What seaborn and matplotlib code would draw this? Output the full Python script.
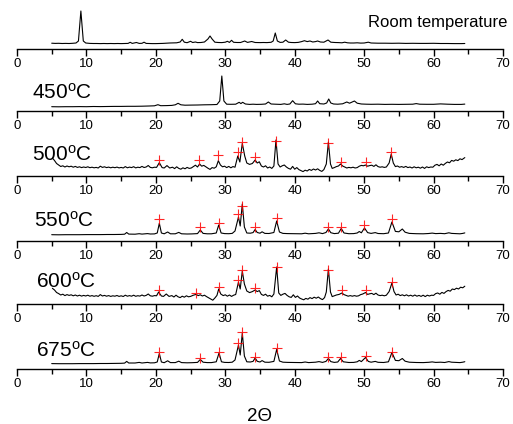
import matplotlib
matplotlib.use("Agg")
import matplotlib.pyplot as plt
import seaborn as sns
import pandas as pd

# ---------------- data (2Theta, intensity in arbitrary units) ----------------
labels = ["Room temperature", "450", "500", "550", "600", "675"]

rt_pts = [(5.0,5.8),(5.5,5.6),(6.0,5.7),(6.5,5.5),(7.0,5.6),(7.5,5.5),(8.0,5.7),(8.5,6.0),(8.85,8),(9.2,38),(9.55,8),(9.9,6.0),
          (10.5,5.6),(11,5.5),(11.5,5.5),(12,5.4),(12.5,5.5),(13,5.4),(13.5,5.5),(14,5.4),(14.5,5.5),(15,5.4),(15.5,5.5),(16,5.6),
          (16.3,6.7),(16.6,5.6),(17.2,6.5),(17.6,5.6),(18.0,5.7),(18.3,6.8),(18.6,5.6),(19,5.5),(19.5,5.4),(20,5.4),(20.5,5.5),
          (21,5.6),(21.5,5.8),(22,6.0),(22.5,6.1),(23.0,6.2),(23.5,7),(23.8,9.7),(24.1,6.8),(24.5,6.3),(25.0,7.7),(25.3,6.5),
          (25.7,7.0),(26.0,6.4),(26.5,6.5),(27.0,7.0),(27.5,10),(27.8,13),(28.1,10),(28.5,6.8),(29,6.5),(29.5,6.4),(30.0,6.8),
          (30.3,7.7),(30.6,6.6),(30.9,8.7),(31.2,6.7),(31.7,6.5),(32.2,6.5),(32.8,8.0),(33.2,6.6),(33.8,7.5),(34.3,6.5),(35,6.4),
          (35.5,6.5),(36,6.4),(36.6,6.7),(36.9,8),(37.2,16),(37.5,8),(37.9,6.6),(38.3,6.8),(38.7,9),(39.1,6.8),(39.5,6.5),(40,6.4),
          (40.5,6.6),(41.0,7.4),(41.4,8.3),(41.8,7.4),(42.2,8.0),(42.6,7.0),(43.0,7.4),(43.3,8.0),(43.7,7.0),(44.2,6.8),(44.8,9),
          (45.2,6.8),(45.8,6.5),(46.3,6.4),(46.8,6.2),(47.2,6.8),(47.6,6.2),(48,6.0),(48.5,6.0),(49,6.2),(49.5,5.9),(50,6.0),
          (50.6,6.8),(51,6.0),(51.5,5.9),(52,5.8),(53,5.8),(54,5.7),(55,5.8),(56,5.6),(57,5.7),(58,5.6),(59,5.6),(60,5.7),
          (61,5.5),(62,5.5),(63,5.4),(64,5.4),(64.5,5.5)]

t450_pts = [(5.0,4.3),(6,4.2),(7,4.3),(8,4.3),(9,4.4),(10,4.3),(11,4.5),(12,4.4),(13,4.5),(14,4.6),(15,4.6),(16,4.7),(17,4.7),
            (18,4.8),(19,5.0),(19.8,5.2),(20.3,6.3),(20.7,5.3),(21.5,5.4),(22.3,5.6),(22.8,6.2),(23.2,7.7),(23.6,6.2),(24.2,5.8),
            (25,5.9),(26,6.0),(27,6.2),(28,6.3),(28.8,6.5),(29.2,10),(29.5,35),(29.8,10),(30.2,6.8),(30.8,6.7),(31.5,6.8),
            (32.0,8.7),(32.25,7.4),(32.5,8.7),(32.9,7),(33.5,6.6),(34,6.8),(34.5,6.6),(35.2,6.7),(35.8,7),(36.2,9),(36.6,7),
            (37.2,6.8),(38.0,6.6),(38.5,7.2),(38.9,6.6),(39.3,7),(39.7,10.3),(40.1,7.2),(40.6,6.8),(41.2,6.9),(41.8,6.6),(42.5,6.8),
            (43.0,7.3),(43.3,10),(43.6,7.3),(44.2,7),(44.6,8),(44.9,12),(45.2,8),(45.6,7),(46.2,6.8),(46.9,7.2),(47.5,9),(47.9,7.8),
            (48.6,10),(49.0,7.8),(49.6,7),(50.3,6.8),(51,6.7),(52,6.8),(53,6.6),(54,6.7),(55,6.6),(56,6.7),(57,6.8),(57.5,7.4),
            (58,6.8),(59,6.7),(60,6.7),(61,7.1),(62,6.8),(63,6.6),(64,6.6),(64.5,6.9)]

t500_pts = [(5.1,18),(5.4,15.5),(5.7,12.5),(6.0,11),(6.3,9.5),(6.6,10.2),(6.9,9.0),(7.2,10.0),(7.5,9.2),(7.8,9.8),(8.1,8.8),
            (8.4,9.6),(8.7,8.6),(9.0,9.2),(9.3,8.4),(9.6,9.0),(9.9,8.5),(10.2,9.2),(10.5,8.3),(10.8,8.8),(11.1,8.2),(11.4,8.6),
            (11.7,8.0),(12.0,9.8),(12.3,8.6),(12.6,9.2),(12.9,8.4),(13.2,8.9),(13.5,8.2),(13.8,8.8),(14.1,8.3),(14.4,8.9),
            (14.7,8.1),(15.0,8.6),(15.3,8.0),(15.6,9.4),(15.9,8.2),(16.2,8.9),(16.5,8.4),(16.8,9.3),(17.1,8.1),(17.4,8.8),
            (17.7,8.4),(18.0,9.6),(18.3,8.5),(18.6,9.0),(18.9,10.5),(19.2,8.6),(19.5,8.2),(19.8,8.8),(20.1,8.6),(20.5,13.3),
            (20.9,8.4),(21.2,8.0),(21.6,10.4),(22.0,8.0),(22.4,8.8),(22.7,7.4),(23.0,9.2),(23.3,7.6),(23.6,6.8),(23.9,8.2),
            (24.2,7.2),(24.5,8.6),(24.8,7.6),(25.1,8.0),(25.4,9.4),(25.7,10.8),(26.0,9.0),(26.3,12.0),(26.6,9.8),(26.9,10.6),
            (27.2,9.2),(27.5,7.8),(27.8,6.6),(28.1,8.4),(28.4,7.8),(28.7,9.2),(29.0,15.3),(29.3,11.0),(29.6,9.2),(29.9,9.8),
            (30.2,8.4),(30.5,9.6),(30.8,8.2),(31.1,9.4),(31.4,8.8),(31.8,20),(32.1,14),(32.45,32.7),(32.8,20),(33.1,13),
            (33.5,11.6),(33.9,12.5),(34.3,16),(34.6,13),(34.9,14.2),(35.2,10.0),(35.5,9.0),(35.8,10.2),(36.1,8.0),(36.4,9.0),
            (36.7,7.6),(37.0,10),(37.3,36),(37.6,12),(37.9,9.0),(38.2,10.2),(38.5,11.0),(38.8,9.0),(39.1,7.6),(39.4,6.8),
            (39.7,9.6),(40.0,6.8),(40.3,8.4),(40.6,6.4),(40.9,5.4),(41.2,4.4),(41.5,5.8),(41.8,5.0),(42.1,6.6),(42.4,5.6),
            (42.7,7.0),(43.0,6.0),(43.3,7.2),(43.6,5.6),(43.9,4.6),(44.2,6.4),(44.55,12),(44.85,34),(45.15,12),(45.4,7.6),
            (45.7,8.4),(46.0,9.4),(46.3,10.0),(46.6,12),(46.9,10.0),(47.2,9.0),(47.5,8.0),(47.8,8.6),(48.1,8.2),(48.4,8.8),
            (48.7,8.0),(49.0,8.4),(49.3,9.8),(49.6,10.6),(49.9,10.2),(50.2,11),(50.5,9.8),(50.8,10.4),(51.1,10.8),(51.4,9.6),
            (51.7,11.2),(52.0,9.4),(52.3,8.8),(52.6,9.2),(52.9,8.6),(53.2,9.0),(53.6,13),(53.9,22),(54.2,13),(54.5,9.4),
            (54.8,10.0),(55.1,8.8),(55.4,9.4),(55.7,8.6),(56.0,9.6),(56.3,8.4),(56.6,9.0),(56.9,8.0),(57.2,9.2),(57.5,8.2),
            (57.8,8.8),(58.1,7.8),(58.4,9.0),(58.7,7.6),(59.0,9.2),(59.3,8.4),(59.6,9.0),(59.9,8.8),(60.2,10.8),(60.5,11.6),
            (60.8,10.2),(61.1,12.0),(61.4,10.8),(61.7,12.6),(62.0,14.0),(62.3,13.2),(62.6,15.6),(62.9,14.8),(63.2,16.2),
            (63.5,15.4),(63.8,17.2),(64.1,16.4),(64.5,18.4)]

t550_pts = [(5.0,6.3),(6,6.2),(7,6.3),(8,6.3),(9,6.3),(10,6.4),(11,6.4),(12,6.4),(13,6.5),(14,6.5),(15,6.6),(15.5,6.8),
            (15.8,8.5),(16.1,6.9),(17,6.8),(17.6,7.3),(18,6.9),(18.8,7.4),(19.2,7.0),(19.8,7.1),(20.2,8),(20.5,17.7),(20.8,8),
            (21.2,7.2),(21.7,9.0),(22.1,7.2),(22.8,7.2),(23.3,8.6),(23.7,7.2),(24.5,7.0),(25.2,7.1),(26.0,7.4),(26.4,11),
            (26.8,7.6),(27.4,7.2),(28.0,7.2),(28.7,8.0),(29.05,16),(29.4,8.0),(29.9,7.4),(30.5,7.3),(31.0,7.6),(31.4,10),
            (31.9,24),(32.15,15),(32.45,37),(32.75,14),(33.1,8.0),(33.6,7.8),(34.0,8.4),(34.3,11.5),(34.6,8.5),(35.0,7.8),
            (35.3,9.2),(35.7,7.6),(36.3,7.5),(37.0,8.5),(37.4,20),(37.8,9.0),(38.3,7.6),(39.0,7.4),(40,7.3),(41,7.2),(41.5,7.8),
            (42,7.2),(43,7.6),(43.5,8.2),(44,7.4),(44.5,8.5),(44.85,12),(45.2,8.3),(45.7,7.4),(46.3,7.8),(46.7,12.5),(47.1,8.0),
            (47.8,7.3),(48.5,7.4),(49.0,8.0),(49.3,9.5),(49.6,8.2),(50.05,13),(50.5,8.4),(51.0,7.6),(51.6,8.4),(52.0,7.5),
            (52.8,7.3),(53.5,8.0),(54.0,19),(54.5,9.6),(55.0,9.2),(55.5,12),(55.9,8.8),(56.5,7.6),(57.5,7.3),(58.5,7.2),
            (59.3,7.5),(59.8,7.9),(60.3,7.4),(61,7.6),(61.6,7.3),(62.2,8.2),(62.6,7.6),(63.2,7.4),(63.8,7.2),(64.2,7.6),(64.5,8.1)]

t600_pts = [(5.1,15.7),(5.4,14.0),(5.7,11.5),(6.0,10.4),(6.3,9.0),(6.6,9.8),(6.9,8.4),(7.2,9.4),(7.5,8.6),(7.8,9.2),(8.1,8.2),
            (8.4,9.0),(8.7,8.0),(9.0,8.8),(9.3,7.9),(9.6,8.6),(9.9,8.0),(10.2,8.8),(10.5,7.8),(10.8,8.4),(11.1,7.7),(11.4,8.3),
            (11.7,7.6),(12.0,9.4),(12.3,8.0),(12.6,8.6),(12.9,7.8),(13.2,8.4),(13.5,7.6),(13.8,8.2),(14.1,7.8),(14.4,8.5),
            (14.7,7.6),(15.0,8.2),(15.3,7.5),(15.6,8.8),(15.9,7.8),(16.2,8.4),(16.5,7.8),(16.8,8.8),(17.1,7.7),(17.4,8.3),
            (17.7,7.9),(18.0,9.0),(18.3,8.0),(18.6,8.6),(18.9,10.0),(19.2,8.2),(19.5,7.8),(19.8,8.4),(20.1,8.2),(20.4,12),
            (20.8,8.0),(21.1,7.6),(21.5,10.0),(21.9,7.6),(22.3,8.4),(22.6,7.0),(22.9,8.8),(23.2,7.2),(23.5,6.4),(23.8,7.8),
            (24.1,6.8),(24.4,8.2),(24.7,7.2),(25.0,7.6),(25.4,8.8),(25.8,9.6),(26.1,8.4),(26.4,9.2),(26.7,8.0),(27.0,8.8),
            (27.3,7.4),(27.6,6.2),(27.9,5.0),(28.2,3.8),(28.5,6.0),(28.8,8.6),(29.05,15),(29.35,10),(29.7,8.4),(30.0,9.2),
            (30.3,7.8),(30.6,9.0),(30.9,7.6),(31.2,8.8),(31.5,9.5),(31.9,22),(32.15,15),(32.45,33),(32.75,20),(33.1,13),
            (33.5,11.4),(33.9,12.4),(34.3,14),(34.6,12.4),(34.9,13.4),(35.2,9.6),(35.5,8.6),(35.8,9.8),(36.1,7.8),(36.4,8.6),
            (36.7,7.2),(37.0,10),(37.4,37),(37.7,11),(38.0,8.6),(38.3,9.8),(38.6,10.6),(38.9,8.6),(39.2,7.2),(39.5,6.6),
            (39.8,9.2),(40.1,6.6),(40.4,8.0),(40.7,6.0),(41.0,5.0),(41.3,4.2),(41.6,5.6),(41.9,4.8),(42.2,6.4),(42.5,5.4),
            (42.8,6.8),(43.1,5.8),(43.4,7.0),(43.7,5.4),(44.0,4.4),(44.3,6.4),(44.55,12),(44.85,35),(45.15,12),(45.4,7.4),
            (45.7,8.2),(46.0,9.0),(46.4,9.6),(46.8,11),(47.1,9.4),(47.4,8.6),(47.7,7.8),(48.0,8.4),(48.3,7.8),(48.6,8.4),
            (48.9,7.8),(49.2,8.2),(49.5,9.4),(49.8,10.0),(50.2,11.5),(50.5,9.6),(50.8,10.2),(51.1,10.6),(51.4,9.4),(51.7,10.8),
            (52.0,9.0),(52.3,8.4),(52.6,8.8),(52.9,8.2),(53.2,8.8),(53.6,12.5),(54.0,21),(54.3,12.5),(54.6,9.0),(54.9,9.8),
            (55.2,8.4),(55.5,9.2),(55.8,8.2),(56.1,9.2),(56.4,8.0),(56.7,8.8),(57.0,7.8),(57.3,9.0),(57.6,7.8),(57.9,8.6),
            (58.2,7.6),(58.5,8.8),(58.8,7.4),(59.1,8.8),(59.4,8.0),(59.7,8.8),(60.0,8.6),(60.3,10.4),(60.6,11.0),(60.9,9.8),
            (61.2,11.6),(61.5,10.6),(61.8,12.4),(62.1,13.6),(62.4,12.8),(62.7,15.0),(63.0,14.4),(63.3,15.8),(63.6,15.0),
            (63.9,16.8),(64.2,16.2),(64.5,17.8)]

t675_pts = [(5.0,5.4),(6,5.3),(7,5.3),(8,5.3),(9,5.4),(10,5.4),(11,5.4),(12,5.5),(13,5.5),(14,5.6),(15,5.7),(15.5,5.9),
            (15.8,7.6),(16.1,6.0),(17,6.0),(17.6,6.6),(18,6.0),(18.8,6.6),(19.2,6.1),(19.8,6.2),(20.2,7),(20.5,15.5),(20.8,7),
            (21.2,6.3),(21.7,8.2),(22.1,6.4),(22.8,6.4),(23.3,7.8),(23.7,6.4),(24.5,6.2),(25.2,6.3),(26.0,6.6),(26.4,9.5),
            (26.8,6.8),(27.4,6.4),(28.0,6.4),(28.7,7.2),(29.1,16),(29.45,7.2),(29.9,6.6),(30.5,6.5),(31.0,6.8),(31.4,9),
            (31.9,24),(32.15,14),(32.45,36),(32.75,13),(33.1,7.2),(33.6,7.0),(34.0,7.6),(34.3,11),(34.6,7.7),(35.0,7.0),
            (35.3,8.4),(35.7,6.8),(36.3,6.7),(37.0,7.6),(37.4,19.5),(37.8,8.0),(38.3,6.8),(39.0,6.6),(40,6.5),(41,6.4),(41.5,7.0),
            (42,6.4),(43,6.8),(43.5,7.4),(44,6.6),(44.5,7.6),(44.85,10.5),(45.2,7.4),(45.7,6.6),(46.2,7.0),(46.6,10.5),(47.0,7.2),
            (47.8,6.5),(48.5,6.6),(49.0,7.2),(49.3,8.6),(49.6,7.4),(50.2,11.5),(50.6,7.6),(51.0,6.8),(51.6,7.6),(52.0,6.7),
            (52.8,6.5),(53.5,7.2),(54.0,16.5),(54.5,8.6),(55.0,8.3),(55.5,10.5),(55.9,7.8),(56.5,6.8),(57.5,6.5),(58.5,6.4),
            (59.3,6.7),(59.8,7.1),(60.3,6.6),(61,6.8),(61.6,6.5),(62.2,7.4),(62.6,6.8),(63.2,6.6),(63.8,6.4),(64.2,6.8),(64.5,7.3)]

# marked (indexed) reflections: (2Theta, marker height)
m500 = [(20.5,16),(26.2,16),(29.0,21),(31.8,24.3),(32.45,34.3),(34.3,18.7),(37.3,35),(44.85,33.3),(46.6,14.3),(50.2,14.3),(53.9,23.7)]
m550 = [(20.5,21.7),(26.4,13.7),(29.05,18.3),(31.9,26.7),(32.45,35.3),(34.3,13.7),(37.4,22.7),(44.85,14.3),(46.6,14.3),(50.0,16),(54.0,22)]
m600 = [(20.4,14),(25.8,10.7),(29.05,17.3),(31.9,24),(32.45,34),(34.3,15.7),(37.4,36.7),(44.85,34),(46.8,14),(50.2,14),(54.0,22.3)]
m675 = [(20.5,17.3),(26.4,11.3),(29.1,17.3),(31.9,25.7),(32.45,36.7),(34.3,12.3),(37.4,20.7),(44.85,12.3),(46.6,12.3),(50.2,13),(54.0,17.3)]

series = [rt_pts, t450_pts, t500_pts, t550_pts, t600_pts, t675_pts]
markers = [None, None, m500, m550, m600, m675]
xticks = [0, 10, 20, 30, 40, 50, 60, 70]

# ---------------- layout (pixels) ----------------
W, H = 513, 424
axis_y = [49, 111, 176, 241, 304, 369]
label_pos = [None, (2.2, 12.7), (2.1, 15), (2.5, 14), (2.7, 16), (2.8, 12.5)]

sns.set_theme(style="white")
plt.rcParams["font.family"] = ["Liberation Sans", "DejaVu Sans"]
plt.rcParams["mathtext.fontset"] = "custom"
plt.rcParams["mathtext.rm"] = "Liberation Sans"
plt.rcParams["mathtext.it"] = "Liberation Sans:italic"
plt.rcParams["text.color"] = "black"
plt.rcParams["xtick.color"] = "black"
plt.rcParams["xtick.labelcolor"] = "black"
plt.rcParams["axes.labelcolor"] = "black"

fig = plt.figure(figsize=(W / 100, H / 100), dpi=100)
fig.patch.set_facecolor("white")

left = 17 / W
width = 486 / W
AH = 60
for i, pts in enumerate(series):
    ay = axis_y[i]
    ax = fig.add_axes([left, (H - ay) / H, width, AH / H])
    ax.patch.set_visible(False)
    df = pd.DataFrame(pts, columns=["x", "y"])
    sns.lineplot(data=df, x="x", y="y", ax=ax, sort=False, estimator=None,
                 color="black", linewidth=0.8)
    for ln in ax.lines:
        ln.set_clip_on(False)
    if markers[i] is not None:
        dm = pd.DataFrame(markers[i], columns=["x", "y"])
        sns.scatterplot(data=dm, x="x", y="y", ax=ax, marker="+", s=50,
                        color="red", linewidth=0.8, alpha=0.85, clip_on=False, zorder=3)
    ax.set_xlim(0, 70)
    ax.set_ylim(0, AH)
    ax.set_xlabel("")
    ax.set_ylabel("")
    ax.set_yticks([])
    for s in ["left", "right", "top"]:
        ax.spines[s].set_visible(False)
    ax.spines["bottom"].set_linewidth(1.0)
    ax.spines["bottom"].set_color("black")
    ax.set_xticks(xticks)
    ax.set_xticklabels([str(t) for t in xticks])
    ax.set_xticks([5, 15, 25, 35, 45, 55, 65], minor=True)
    ax.tick_params(axis="x", which="major", direction="out", length=5, width=1,
                   labelsize=9.5, pad=1.5, color="black", labelcolor="black", bottom=True)
    ax.tick_params(axis="x", which="minor", direction="out", length=3.5, width=1,
                   color="black", bottom=True)
    if i == 0:
        ax.text(70.7, 22, labels[0], ha="right", va="baseline", fontsize=12, color="black")
    else:
        lx, ly = label_pos[i]
        ax.text(lx, ly, labels[i] + r"$^{\mathrm{o}}$C", ha="left", va="baseline",
                fontsize=15, color="black")
    if i == len(series) - 1:
        ax.text(35, -52, "2\u0398", ha="center", va="baseline", fontsize=13.5, color="black")

fig.savefig("out.png", dpi=100)
